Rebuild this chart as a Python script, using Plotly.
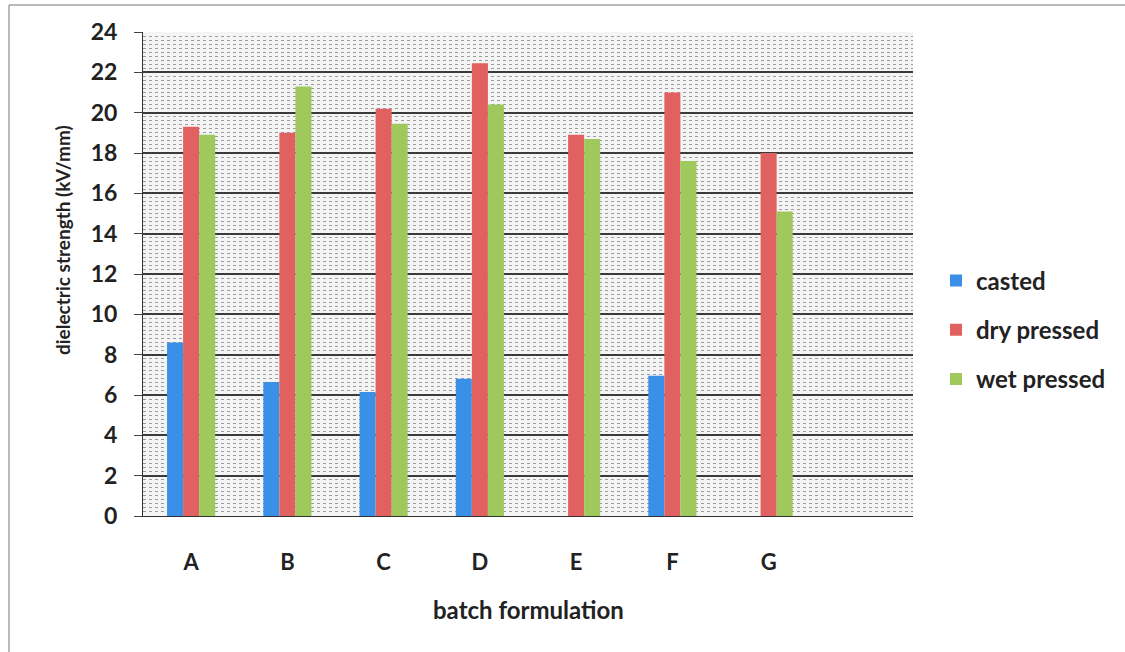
import plotly.graph_objects as go

categories = ["A", "B", "C", "D", "E", "F", "G"]
casted = [8.6, 6.65, 6.15, 6.8, None, 6.95, None]
dry_pressed = [19.3, 19.0, 20.2, 22.45, 18.9, 21.0, 18.0]
wet_pressed = [18.9, 21.3, 19.45, 20.4, 18.7, 17.6, 15.1]
y_ticks = list(range(0, 25, 2))

series_names = ["casted", "dry pressed", "wet pressed"]
series_values = [casted, dry_pressed, wet_pressed]
colors = ["#3a8fe6", "#e0615f", "#9fc95c"]

FONT = "Lato"
x_pos = list(range(len(categories)))

fig = go.Figure()
for name, vals, col in zip(series_names, series_values, colors):
    fig.add_trace(go.Bar(
        x=x_pos, y=vals, name=name, legendgroup=name,
        marker=dict(color=col, line=dict(width=0)),
    ))

W, H = 1125, 652
L, R, T, B = 143, 212, 32, 136
pw, ph = W - L - R, H - T - B

def px_x(p):
    return (p - L) / pw

def px_y(p):
    return (H - B - p) / ph

fig.update_layout(
    width=W, height=H,
    margin=dict(l=L, r=R, t=T, b=B),
    paper_bgcolor="white",
    plot_bgcolor="#f4f4f4",
    barmode="group",
    bargap=0.5,
    bargroupgap=0,
    font=dict(family=FONT, color="#222222"),
    showlegend=True,
    legend=dict(
        x=px_x(936), y=px_y(330), xanchor="left", yanchor="middle",
        font=dict(family=FONT, size=24, color="#222222", weight="bold"),
        tracegroupgap=15, traceorder="grouped",
        bgcolor="rgba(0,0,0,0)",
    ),
    xaxis=dict(
        range=[-0.5, 7.5],
        tickmode="array", tickvals=x_pos, ticktext=categories,
        showgrid=False, zeroline=False,
        showline=True, linecolor="#333333", linewidth=1,
        ticks="", ticklabelstandoff=27,
        tickfont=dict(family=FONT, size=22, color="#222222", weight="bold"),
    ),
    yaxis=dict(
        range=[0, 24], tickmode="array", tickvals=y_ticks,
        showgrid=True, gridcolor="#3a3a3a", gridwidth=2,
        zeroline=False,
        showline=True, linecolor="#333333", linewidth=1,
        ticks="outside", ticklen=8, tickcolor="#444444", tickwidth=1,
        ticklabelstandoff=12,
        tickfont=dict(family=FONT, size=23, color="#222222", weight="bold"),
        minor=dict(dtick=0.2, showgrid=True, gridcolor="#9c9c9c",
                   griddash="dot", gridwidth=1),
    ),
    annotations=[
        dict(text="dielectric strength (kV/mm)", xref="paper", yref="paper",
             x=px_x(62), y=px_y(240), textangle=-90, showarrow=False,
             xanchor="center", yanchor="middle",
             font=dict(family=FONT, size=19, color="#222222", weight="bold")),
        dict(text="batch formulation", xref="paper", yref="paper",
             x=px_x(528), y=px_y(609), showarrow=False,
             xanchor="center", yanchor="middle",
             font=dict(family=FONT, size=24, color="#222222", weight="bold")),
    ],
    shapes=[
        dict(type="line", xref="paper", yref="paper",
             x0=px_x(9), x1=px_x(1125), y0=px_y(5), y1=px_y(5),
             line=dict(color="#777777", width=1)),
        dict(type="line", xref="paper", yref="paper",
             x0=px_x(9), x1=px_x(9), y0=px_y(5), y1=px_y(652),
             line=dict(color="#777777", width=1)),
    ],
)

fig.write_html("out.html")
